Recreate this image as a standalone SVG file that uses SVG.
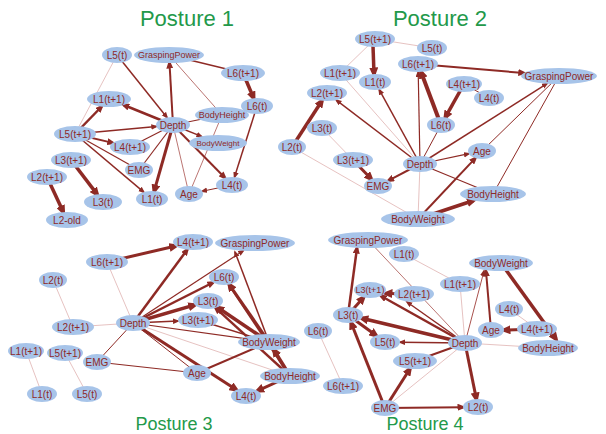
<svg xmlns="http://www.w3.org/2000/svg" width="606" height="434" viewBox="0 0 606 434">
<style>
text{font-family:"Liberation Sans",Arial,sans-serif;}
.title{font-size:18px;fill:#23994a;text-anchor:middle;}
.big{font-size:22px;}
.n ellipse{fill:#a7c4e9;}
.n text{font-size:10px;fill:#8e2a28;text-anchor:middle;dominant-baseline:central;}
#edges line{fill:none;stroke-linecap:butt;}
.s{stroke:#8e2a25;}
.m{stroke:#a9524e;stroke-width:0.8;}
.l{stroke:#e0b3b1;stroke-width:0.8;}
.w1{stroke-width:1;}
.w12{stroke-width:1.2;}
.w15{stroke-width:1.5;}
.w2{stroke-width:2;}
.w25{stroke-width:2.5;}
.w3{stroke-width:3;}
.w35{stroke-width:3.5;}
.w4{stroke-width:4;}
.aS{marker-end:url(#arrS);}
.aM{marker-end:url(#arrM);}
.aL{marker-end:url(#arrL);}
</style>
<defs>
<marker id="arrS" markerUnits="userSpaceOnUse" markerWidth="7" markerHeight="6" refX="5" refY="2.75" orient="auto"><path d="M0,0 L7,2.75 L0,5.5 z" fill="#8e2a25"/></marker>
<marker id="arrM" markerUnits="userSpaceOnUse" markerWidth="9" markerHeight="7" refX="5.5" refY="3.5" orient="auto"><path d="M0,0 L9,3.5 L0,7 z" fill="#8e2a25"/></marker>
<marker id="arrL" markerUnits="userSpaceOnUse" markerWidth="11" markerHeight="9" refX="6.5" refY="4.5" orient="auto"><path d="M0,0 L11,4.5 L0,9 z" fill="#8e2a25"/></marker>
</defs>
<rect width="606" height="434" fill="#ffffff"/>
<text class="title big" x="187" y="26">Posture 1</text>
<text class="title big" x="440" y="26">Posture 2</text>
<text class="title" x="174" y="430">Posture 3</text>
<text class="title" x="425" y="430">Posture 4</text>
<g id="edges">
<!-- Posture 1 -->
<line class="l" x1="75" y1="134" x2="117" y2="55"/>
<line class="s w15" x1="169" y1="55" x2="243" y2="73"/>
<line class="m" x1="169" y1="55" x2="222" y2="115"/>
<line class="s w12" x1="75" y1="134" x2="139" y2="170"/>
<line class="s w12" x1="130" y1="147" x2="173" y2="125"/>
<line class="s w12" x1="139" y1="170" x2="173" y2="125"/>
<line class="m" x1="173" y1="125" x2="189" y2="194"/>
<line class="s w12" x1="173" y1="125" x2="222" y2="115"/>
<line class="m" x1="222" y1="115" x2="189" y2="194"/>
<line class="s w15 aS" x1="117" y1="55" x2="167" y2="117.5"/>
<line class="s w2 aM" x1="173" y1="125" x2="169.5" y2="63"/>
<line class="s w35 aL" x1="243" y1="73" x2="253.7" y2="98.2"/>
<line class="s w25 aM" x1="173" y1="125" x2="123.7" y2="105"/>
<line class="s w25 aM" x1="75" y1="134" x2="101.7" y2="106.5"/>
<line class="s w15 aS" x1="75" y1="134" x2="156.3" y2="126.5"/>
<line class="s w2 aM" x1="75" y1="134" x2="112.8" y2="142.9"/>
<line class="s w15 aS" x1="75" y1="134" x2="143.8" y2="192.1"/>
<line class="s w3 aL" x1="173" y1="125" x2="154.2" y2="191.1"/>
<line class="s w2 aM" x1="173" y1="125" x2="224.9" y2="177.8"/>
<line class="s w15 aS" x1="173" y1="125" x2="201.5" y2="136.4"/>
<line class="s w15 aS" x1="257" y1="106" x2="234.5" y2="177.1"/>
<line class="s w1 aS" x1="232" y1="185" x2="202.1" y2="191.3"/>
<line class="s w35 aL" x1="71" y1="160" x2="97.2" y2="194.4"/>
<line class="s w35 aL" x1="47" y1="177" x2="63.3" y2="212.1"/>
<!-- Posture 2 -->
<line class="l" x1="375" y1="39" x2="432" y2="48"/>
<line class="l" x1="375" y1="39" x2="340" y2="73"/>
<line class="l" x1="340" y1="73" x2="420" y2="164"/>
<line class="l" x1="322" y1="128" x2="353" y2="160"/>
<line class="l" x1="292" y1="147" x2="418" y2="219"/>
<line class="l" x1="420" y1="164" x2="418" y2="219"/>
<line class="s w1" x1="420" y1="164" x2="441" y2="125"/>
<line class="s w1" x1="464" y1="84" x2="489" y2="98"/>
<line class="s w1" x1="482" y1="151" x2="559" y2="76"/>
<line class="s w1" x1="493" y1="194" x2="559" y2="76"/>
<line class="s w12" x1="420" y1="164" x2="493" y2="194"/>
<line class="s w35 aL" x1="373" y1="46" x2="374" y2="74"/>
<line class="s w15 aS" x1="420" y1="164" x2="379.2" y2="89.7"/>
<line class="s w15 aS" x1="420" y1="164" x2="336.3" y2="100.1"/>
<line class="s w35 aL" x1="292" y1="147" x2="322" y2="100.7"/>
<line class="s w3 aL" x1="353" y1="160" x2="371.3" y2="179"/>
<line class="s w2 aM" x1="420" y1="164" x2="388.4" y2="180.6"/>
<line class="s w12 aS" x1="420" y1="164" x2="418.2" y2="72"/>
<line class="s w4 aL" x1="441" y1="125" x2="421" y2="71.9"/>
<line class="s w35 aL" x1="464" y1="84" x2="445.3" y2="117.4"/>
<line class="s w2 aM" x1="418" y1="64" x2="523.8" y2="73"/>
<line class="s w15 aS" x1="420" y1="164" x2="547" y2="83.6"/>
<line class="s w12 aS" x1="420" y1="164" x2="468.9" y2="153.7"/>
<line class="s w2 aM" x1="418" y1="219" x2="475.4" y2="158.1"/>
<line class="s w35 aL" x1="418" y1="219" x2="473.6" y2="200.5"/>
<!-- Posture 3 -->
<line class="l" x1="107" y1="262" x2="133" y2="323"/>
<line class="l" x1="53" y1="280" x2="73" y2="327"/>
<line class="l" x1="73" y1="327" x2="133" y2="323"/>
<line class="l" x1="133" y1="323" x2="290" y2="376"/>
<line class="l" x1="26" y1="351" x2="42" y2="394"/>
<line class="l" x1="65" y1="353" x2="87" y2="394"/>
<line class="s w12" x1="133" y1="323" x2="269" y2="342"/>
<line class="s w1" x1="133" y1="323" x2="197" y2="373"/>
<line class="s w1" x1="97" y1="362" x2="133" y2="323"/>
<line class="s w12" x1="97" y1="362" x2="197" y2="373"/>
<line class="s w2" x1="197" y1="373" x2="269" y2="342"/>
<line class="s w15" x1="269" y1="342" x2="198" y2="320"/>
<line class="s w3 aL" x1="107" y1="262" x2="175.8" y2="246"/>
<line class="s w25 aM" x1="133" y1="323" x2="187.3" y2="249.6"/>
<line class="s w12 aS" x1="133" y1="323" x2="243.3" y2="250.7"/>
<line class="s w25 aM" x1="133" y1="323" x2="213.1" y2="282.5"/>
<line class="s w35 aL" x1="133" y1="323" x2="194.9" y2="304.9"/>
<line class="s w15 aS" x1="133" y1="323" x2="178" y2="321"/>
<line class="s w3 aL" x1="133" y1="323" x2="236.4" y2="389.8"/>
<line class="s w3 aL" x1="269" y1="342" x2="229.2" y2="284.5"/>
<line class="s w25 aM" x1="290" y1="376" x2="229" y2="284.5"/>
<line class="s w35 aL" x1="269" y1="342" x2="217.3" y2="307.3"/>
<line class="s w25 aM" x1="290" y1="376" x2="215.5" y2="307.9"/>
<line class="s w15 aS" x1="269" y1="342" x2="235" y2="252"/>
<line class="s w35 aL" x1="290" y1="376" x2="273.9" y2="349.9"/>
<line class="s w3 aL" x1="290" y1="376" x2="257.4" y2="390.8"/>
<!-- Posture 4 -->
<line class="l" x1="404" y1="254" x2="460" y2="284"/>
<line class="l" x1="460" y1="284" x2="465" y2="343"/>
<line class="l" x1="385" y1="408" x2="465" y2="343"/>
<line class="l" x1="509" y1="309" x2="537" y2="329"/>
<line class="l" x1="465" y1="343" x2="548" y2="348"/>
<line class="l" x1="318" y1="331" x2="343" y2="386"/>
<line class="m" x1="368" y1="240" x2="465" y2="343"/>
<line class="s w2" x1="415" y1="361" x2="465" y2="343"/>
<line class="s w25 aM" x1="348" y1="315" x2="357" y2="248"/>
<line class="s w3 aL" x1="348" y1="315" x2="363.6" y2="297.3"/>
<line class="s w3 aL" x1="414" y1="294" x2="386" y2="293.5"/>
<line class="s w25 aM" x1="465" y1="343" x2="381" y2="296"/>
<line class="s w15 aS" x1="465" y1="343" x2="407" y2="302"/>
<line class="s w35 aL" x1="465" y1="343" x2="361.7" y2="318.3"/>
<line class="s w3 aL" x1="348" y1="315" x2="376.2" y2="335.5"/>
<line class="s w15 aS" x1="465" y1="343" x2="400" y2="342.2"/>
<line class="s w3 aL" x1="385" y1="408" x2="410" y2="368.8"/>
<line class="s w3 aL" x1="385" y1="408" x2="351.1" y2="322.8"/>
<line class="s w2 aM" x1="385" y1="408" x2="463" y2="407.2"/>
<line class="s w3 aL" x1="465" y1="343" x2="476.4" y2="399.1"/>
<line class="m w1 aS" x1="465" y1="343" x2="484" y2="271"/>
<line class="s w2 aM" x1="491" y1="330" x2="486" y2="271"/>
<line class="s w3 aL" x1="537" y1="329" x2="504" y2="330"/>
<line class="s w35 aL" x1="501" y1="263" x2="556" y2="339"/>
</g>
<!-- Posture 1 nodes -->
<g id="p1-L5t" class="n"><ellipse cx="117" cy="55" rx="15" ry="8"/><text x="117" y="55">L5(t)</text></g>
<g id="p1-GP" class="n"><ellipse cx="169" cy="55" rx="35" ry="8"/><text x="169" y="55" style="font-size:9px">GraspingPower</text></g>
<g id="p1-L6t1" class="n"><ellipse cx="243" cy="73" rx="22" ry="8"/><text x="243" y="73">L6(t+1)</text></g>
<g id="p1-L6t" class="n"><ellipse cx="257" cy="106" rx="16" ry="8"/><text x="257" y="106">L6(t)</text></g>
<g id="p1-L1t1" class="n"><ellipse cx="109" cy="99" rx="22" ry="8"/><text x="109" y="99">L1(t+1)</text></g>
<g id="p1-BH" class="n"><ellipse cx="222" cy="115" rx="27" ry="8"/><text x="222" y="115" style="font-size:9px">BodyHeight</text></g>
<g id="p1-BW" class="n"><ellipse cx="218" cy="143" rx="29" ry="8"/><text x="218" y="143" style="font-size:8px">BodyWeight</text></g>
<g id="p1-Depth" class="n"><ellipse cx="173" cy="125" rx="17" ry="8"/><text x="173" y="125">Depth</text></g>
<g id="p1-L5t1" class="n"><ellipse cx="75" cy="134" rx="21" ry="8"/><text x="75" y="134">L5(t+1)</text></g>
<g id="p1-L4t1" class="n"><ellipse cx="130" cy="147" rx="20" ry="8"/><text x="130" y="147">L4(t+1)</text></g>
<g id="p1-EMG" class="n"><ellipse cx="139" cy="170" rx="14" ry="8"/><text x="139" y="170">EMG</text></g>
<g id="p1-L3t1" class="n"><ellipse cx="71" cy="160" rx="20" ry="8"/><text x="71" y="160">L3(t+1)</text></g>
<g id="p1-L2t1" class="n"><ellipse cx="47" cy="177" rx="20" ry="8"/><text x="47" y="177">L2(t+1)</text></g>
<g id="p1-L3t" class="n"><ellipse cx="103" cy="202" rx="19" ry="8"/><text x="103" y="202">L3(t)</text></g>
<g id="p1-L1t" class="n"><ellipse cx="152" cy="199" rx="16" ry="8"/><text x="152" y="199">L1(t)</text></g>
<g id="p1-Age" class="n"><ellipse cx="189" cy="194" rx="14" ry="8"/><text x="189" y="194">Age</text></g>
<g id="p1-L4t" class="n"><ellipse cx="232" cy="185" rx="16" ry="8"/><text x="232" y="185">L4(t)</text></g>
<g id="p1-L2old" class="n"><ellipse cx="67" cy="220" rx="21" ry="8"/><text x="67" y="220">L2-old</text></g>
<!-- Posture 2 nodes -->
<g id="p2-L5t1" class="n"><ellipse cx="375" cy="39" rx="20" ry="8"/><text x="375" y="39">L5(t+1)</text></g>
<g id="p2-L5t" class="n"><ellipse cx="432" cy="48" rx="15" ry="8"/><text x="432" y="48">L5(t)</text></g>
<g id="p2-L1t1" class="n"><ellipse cx="340" cy="73" rx="20" ry="8"/><text x="340" y="73">L1(t+1)</text></g>
<g id="p2-L1t" class="n"><ellipse cx="375" cy="82" rx="16" ry="8"/><text x="375" y="82">L1(t)</text></g>
<g id="p2-L6t1" class="n"><ellipse cx="418" cy="64" rx="20" ry="8"/><text x="418" y="64">L6(t+1)</text></g>
<g id="p2-GP" class="n"><ellipse cx="559" cy="76" rx="38" ry="8"/><text x="559" y="76">GraspingPower</text></g>
<g id="p2-L2t1" class="n"><ellipse cx="327" cy="93" rx="20" ry="8"/><text x="327" y="93">L2(t+1)</text></g>
<g id="p2-L4t1" class="n"><ellipse cx="464" cy="84" rx="18" ry="8"/><text x="464" y="84">L4(t+1)</text></g>
<g id="p2-L4t" class="n"><ellipse cx="489" cy="98" rx="15" ry="8"/><text x="489" y="98">L4(t)</text></g>
<g id="p2-L3t" class="n"><ellipse cx="322" cy="128" rx="15" ry="8"/><text x="322" y="128">L3(t)</text></g>
<g id="p2-L6t" class="n"><ellipse cx="441" cy="125" rx="14" ry="8"/><text x="441" y="125">L6(t)</text></g>
<g id="p2-L2t" class="n"><ellipse cx="292" cy="147" rx="14" ry="8"/><text x="292" y="147">L2(t)</text></g>
<g id="p2-Age" class="n"><ellipse cx="482" cy="151" rx="14" ry="8"/><text x="482" y="151">Age</text></g>
<g id="p2-L3t1" class="n"><ellipse cx="353" cy="160" rx="20" ry="8"/><text x="353" y="160">L3(t+1)</text></g>
<g id="p2-Depth" class="n"><ellipse cx="420" cy="164" rx="17" ry="8"/><text x="420" y="164">Depth</text></g>
<g id="p2-EMG" class="n"><ellipse cx="378" cy="186" rx="14" ry="8"/><text x="378" y="186">EMG</text></g>
<g id="p2-BH" class="n"><ellipse cx="493" cy="194" rx="33" ry="8"/><text x="493" y="194">BodyHeight</text></g>
<g id="p2-BW" class="n"><ellipse cx="418" cy="219" rx="37" ry="8"/><text x="418" y="219">BodyWeight</text></g>
<!-- Posture 3 nodes -->
<g id="p3-L4t1" class="n"><ellipse cx="193" cy="242" rx="20" ry="8"/><text x="193" y="242">L4(t+1)</text></g>
<g id="p3-GP" class="n"><ellipse cx="255" cy="243" rx="40" ry="8"/><text x="255" y="243">GraspingPower</text></g>
<g id="p3-L6t1" class="n"><ellipse cx="107" cy="262" rx="21" ry="8"/><text x="107" y="262">L6(t+1)</text></g>
<g id="p3-L2t" class="n"><ellipse cx="53" cy="280" rx="14" ry="8"/><text x="53" y="280">L2(t)</text></g>
<g id="p3-L6t" class="n"><ellipse cx="224" cy="277" rx="15" ry="8"/><text x="224" y="277">L6(t)</text></g>
<g id="p3-L3t" class="n"><ellipse cx="208" cy="301" rx="15" ry="8"/><text x="208" y="301">L3(t)</text></g>
<g id="p3-L2t1" class="n"><ellipse cx="73" cy="327" rx="21" ry="8"/><text x="73" y="327">L2(t+1)</text></g>
<g id="p3-Depth" class="n"><ellipse cx="133" cy="323" rx="17" ry="8"/><text x="133" y="323">Depth</text></g>
<g id="p3-L3t1" class="n"><ellipse cx="198" cy="320" rx="20" ry="8"/><text x="198" y="320">L3(t+1)</text></g>
<g id="p3-BW" class="n"><ellipse cx="269" cy="342" rx="31" ry="8"/><text x="269" y="342">BodyWeight</text></g>
<g id="p3-L1t1" class="n"><ellipse cx="26" cy="351" rx="18" ry="8"/><text x="26" y="351">L1(t+1)</text></g>
<g id="p3-L5t1" class="n"><ellipse cx="65" cy="353" rx="18" ry="8"/><text x="65" y="353">L5(t+1)</text></g>
<g id="p3-EMG" class="n"><ellipse cx="97" cy="362" rx="14" ry="8"/><text x="97" y="362">EMG</text></g>
<g id="p3-Age" class="n"><ellipse cx="197" cy="373" rx="14" ry="8"/><text x="197" y="373">Age</text></g>
<g id="p3-BH" class="n"><ellipse cx="290" cy="376" rx="30" ry="8"/><text x="290" y="376">BodyHeight</text></g>
<g id="p3-L1t" class="n"><ellipse cx="42" cy="394" rx="15" ry="8"/><text x="42" y="394">L1(t)</text></g>
<g id="p3-L5t" class="n"><ellipse cx="87" cy="394" rx="15" ry="8"/><text x="87" y="394">L5(t)</text></g>
<g id="p3-L4t" class="n"><ellipse cx="246" cy="396" rx="15" ry="8"/><text x="246" y="396">L4(t)</text></g>
<!-- Posture 4 nodes -->
<g id="p4-GP" class="n"><ellipse cx="368" cy="240" rx="40" ry="8"/><text x="368" y="240">GraspingPower</text></g>
<g id="p4-L1t" class="n"><ellipse cx="404" cy="254" rx="15" ry="8"/><text x="404" y="254">L1(t)</text></g>
<g id="p4-BW" class="n"><ellipse cx="501" cy="263" rx="32" ry="8"/><text x="501" y="263">BodyWeight</text></g>
<g id="p4-L1t1" class="n"><ellipse cx="460" cy="284" rx="20" ry="8"/><text x="460" y="284">L1(t+1)</text></g>
<g id="p4-L3t1" class="n"><ellipse cx="370" cy="290" rx="16" ry="8"/><text x="370" y="290" style="font-size:9px">L3(t+1)</text></g>
<g id="p4-L2t1" class="n"><ellipse cx="414" cy="294" rx="20" ry="8"/><text x="414" y="294">L2(t+1)</text></g>
<g id="p4-L4t" class="n"><ellipse cx="509" cy="309" rx="14" ry="8"/><text x="509" y="309">L4(t)</text></g>
<g id="p4-L3t" class="n"><ellipse cx="348" cy="315" rx="15" ry="8"/><text x="348" y="315">L3(t)</text></g>
<g id="p4-L6t" class="n"><ellipse cx="318" cy="331" rx="14" ry="8"/><text x="318" y="331">L6(t)</text></g>
<g id="p4-Age" class="n"><ellipse cx="491" cy="330" rx="13" ry="8"/><text x="491" y="330">Age</text></g>
<g id="p4-L4t1" class="n"><ellipse cx="537" cy="329" rx="20" ry="8"/><text x="537" y="329">L4(t+1)</text></g>
<g id="p4-L5t" class="n"><ellipse cx="385" cy="342" rx="15" ry="8"/><text x="385" y="342">L5(t)</text></g>
<g id="p4-BH" class="n"><ellipse cx="548" cy="348" rx="30" ry="8"/><text x="548" y="348">BodyHeight</text></g>
<g id="p4-Depth" class="n"><ellipse cx="465" cy="343" rx="17" ry="8"/><text x="465" y="343">Depth</text></g>
<g id="p4-L5t1" class="n"><ellipse cx="415" cy="361" rx="22" ry="8"/><text x="415" y="361">L5(t+1)</text></g>
<g id="p4-L6t1" class="n"><ellipse cx="343" cy="386" rx="20" ry="8"/><text x="343" y="386">L6(t+1)</text></g>
<g id="p4-EMG" class="n"><ellipse cx="385" cy="408" rx="14" ry="8"/><text x="385" y="408">EMG</text></g>
<g id="p4-L2t" class="n"><ellipse cx="478" cy="407" rx="15" ry="8"/><text x="478" y="407">L2(t)</text></g>
</svg>
